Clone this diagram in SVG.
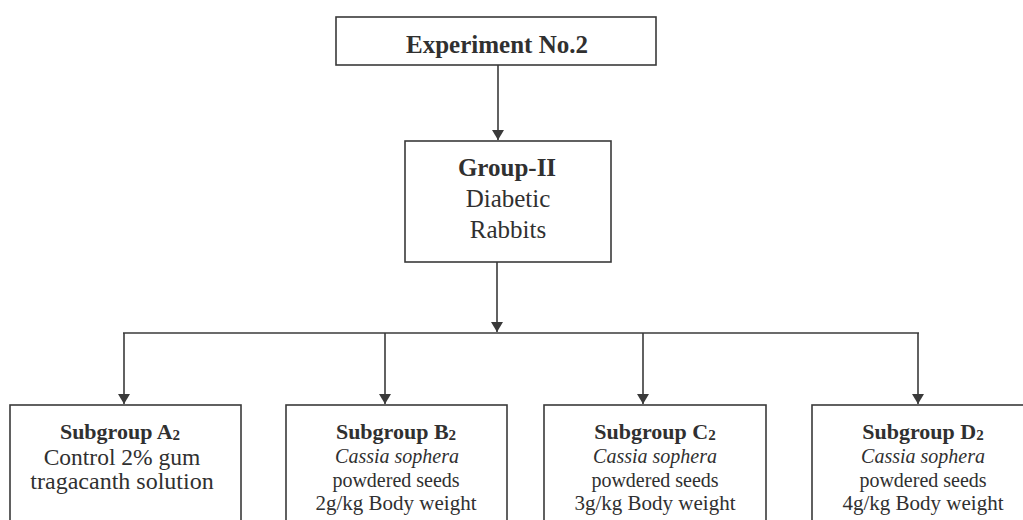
<svg xmlns="http://www.w3.org/2000/svg" width="1023" height="520" viewBox="0 0 1023 520">
  <defs>
    <marker id="arrow" viewBox="0 0 10 12" refX="10" refY="6" markerWidth="10" markerHeight="12" markerUnits="userSpaceOnUse" orient="auto">
      <path d="M0,0 L10,6 L0,12 Z" fill="#3a3a3a"/>
    </marker>
  </defs>
  <style>
    .box { fill: #ffffff; stroke: #3a3a3a; stroke-width: 1.6; }
    .wire { fill: none; stroke: #3a3a3a; stroke-width: 1.6; }
    text { fill: #303030; text-anchor: middle; }
    .b { font-weight: bold; }
    .i { font-style: italic; }
  </style>
  <rect x="0" y="0" width="1023" height="520" fill="#ffffff"/>

  <g id="connectors">
    <line class="wire" x1="498" y1="65" x2="498" y2="140" marker-end="url(#arrow)"/>
    <line class="wire" x1="497" y1="262" x2="497" y2="332" marker-end="url(#arrow)"/>
    <line class="wire" x1="123" y1="333" x2="919" y2="333"/>
    <line class="wire" x1="124" y1="333" x2="124" y2="404" marker-end="url(#arrow)"/>
    <line class="wire" x1="385" y1="333" x2="385" y2="404" marker-end="url(#arrow)"/>
    <line class="wire" x1="643" y1="333" x2="643" y2="404" marker-end="url(#arrow)"/>
    <line class="wire" x1="918" y1="333" x2="918" y2="404" marker-end="url(#arrow)"/>
  </g>

  <g font-family="'Liberation Serif', 'Times New Roman', serif">
    <g id="experiment">
      <rect class="box" x="336" y="17" width="320" height="48"/>
      <text class="b" x="497" y="53" font-size="25">Experiment No.2</text>
    </g>

    <g id="group-ii">
      <rect class="box" x="405" y="141" width="206" height="121"/>
      <text class="b" x="507" y="176" font-size="25">Group-II</text>
      <text x="508" y="207" font-size="25">Diabetic</text>
      <text x="508" y="238" font-size="25">Rabbits</text>
    </g>

    <g id="subgroup-a2">
      <rect class="box" x="10" y="405" width="231" height="130"/>
      <text class="b" x="120" y="439" font-size="22">Subgroup A<tspan font-size="15" dy="1">2</tspan></text>
      <text x="122" y="465" font-size="23.5">Control 2% gum</text>
      <text x="122" y="489" font-size="24">tragacanth solution</text>
    </g>

    <g id="subgroup-b2">
      <rect class="box" x="286" y="405" width="221" height="130"/>
      <text class="b" x="396" y="439" font-size="22">Subgroup B<tspan font-size="15" dy="1">2</tspan></text>
      <text class="i" x="397" y="463" font-size="20">Cassia sophera</text>
      <text x="396" y="487" font-size="20">powdered seeds</text>
      <text x="396" y="510" font-size="21">2g/kg Body weight</text>
    </g>

    <g id="subgroup-c2">
      <rect class="box" x="544" y="405" width="222" height="130"/>
      <text class="b" x="655" y="439" font-size="22">Subgroup C<tspan font-size="15" dy="1">2</tspan></text>
      <text class="i" x="655" y="463" font-size="20">Cassia sophera</text>
      <text x="655" y="487" font-size="20">powdered seeds</text>
      <text x="655" y="510" font-size="21">3g/kg Body weight</text>
    </g>

    <g id="subgroup-d2">
      <rect class="box" x="812" y="405" width="220" height="130"/>
      <text class="b" x="923" y="439" font-size="22">Subgroup D<tspan font-size="15" dy="1">2</tspan></text>
      <text class="i" x="923" y="463" font-size="20">Cassia sophera</text>
      <text x="923" y="487" font-size="20">powdered seeds</text>
      <text x="923" y="510" font-size="21">4g/kg Body weight</text>
    </g>
  </g>
</svg>
